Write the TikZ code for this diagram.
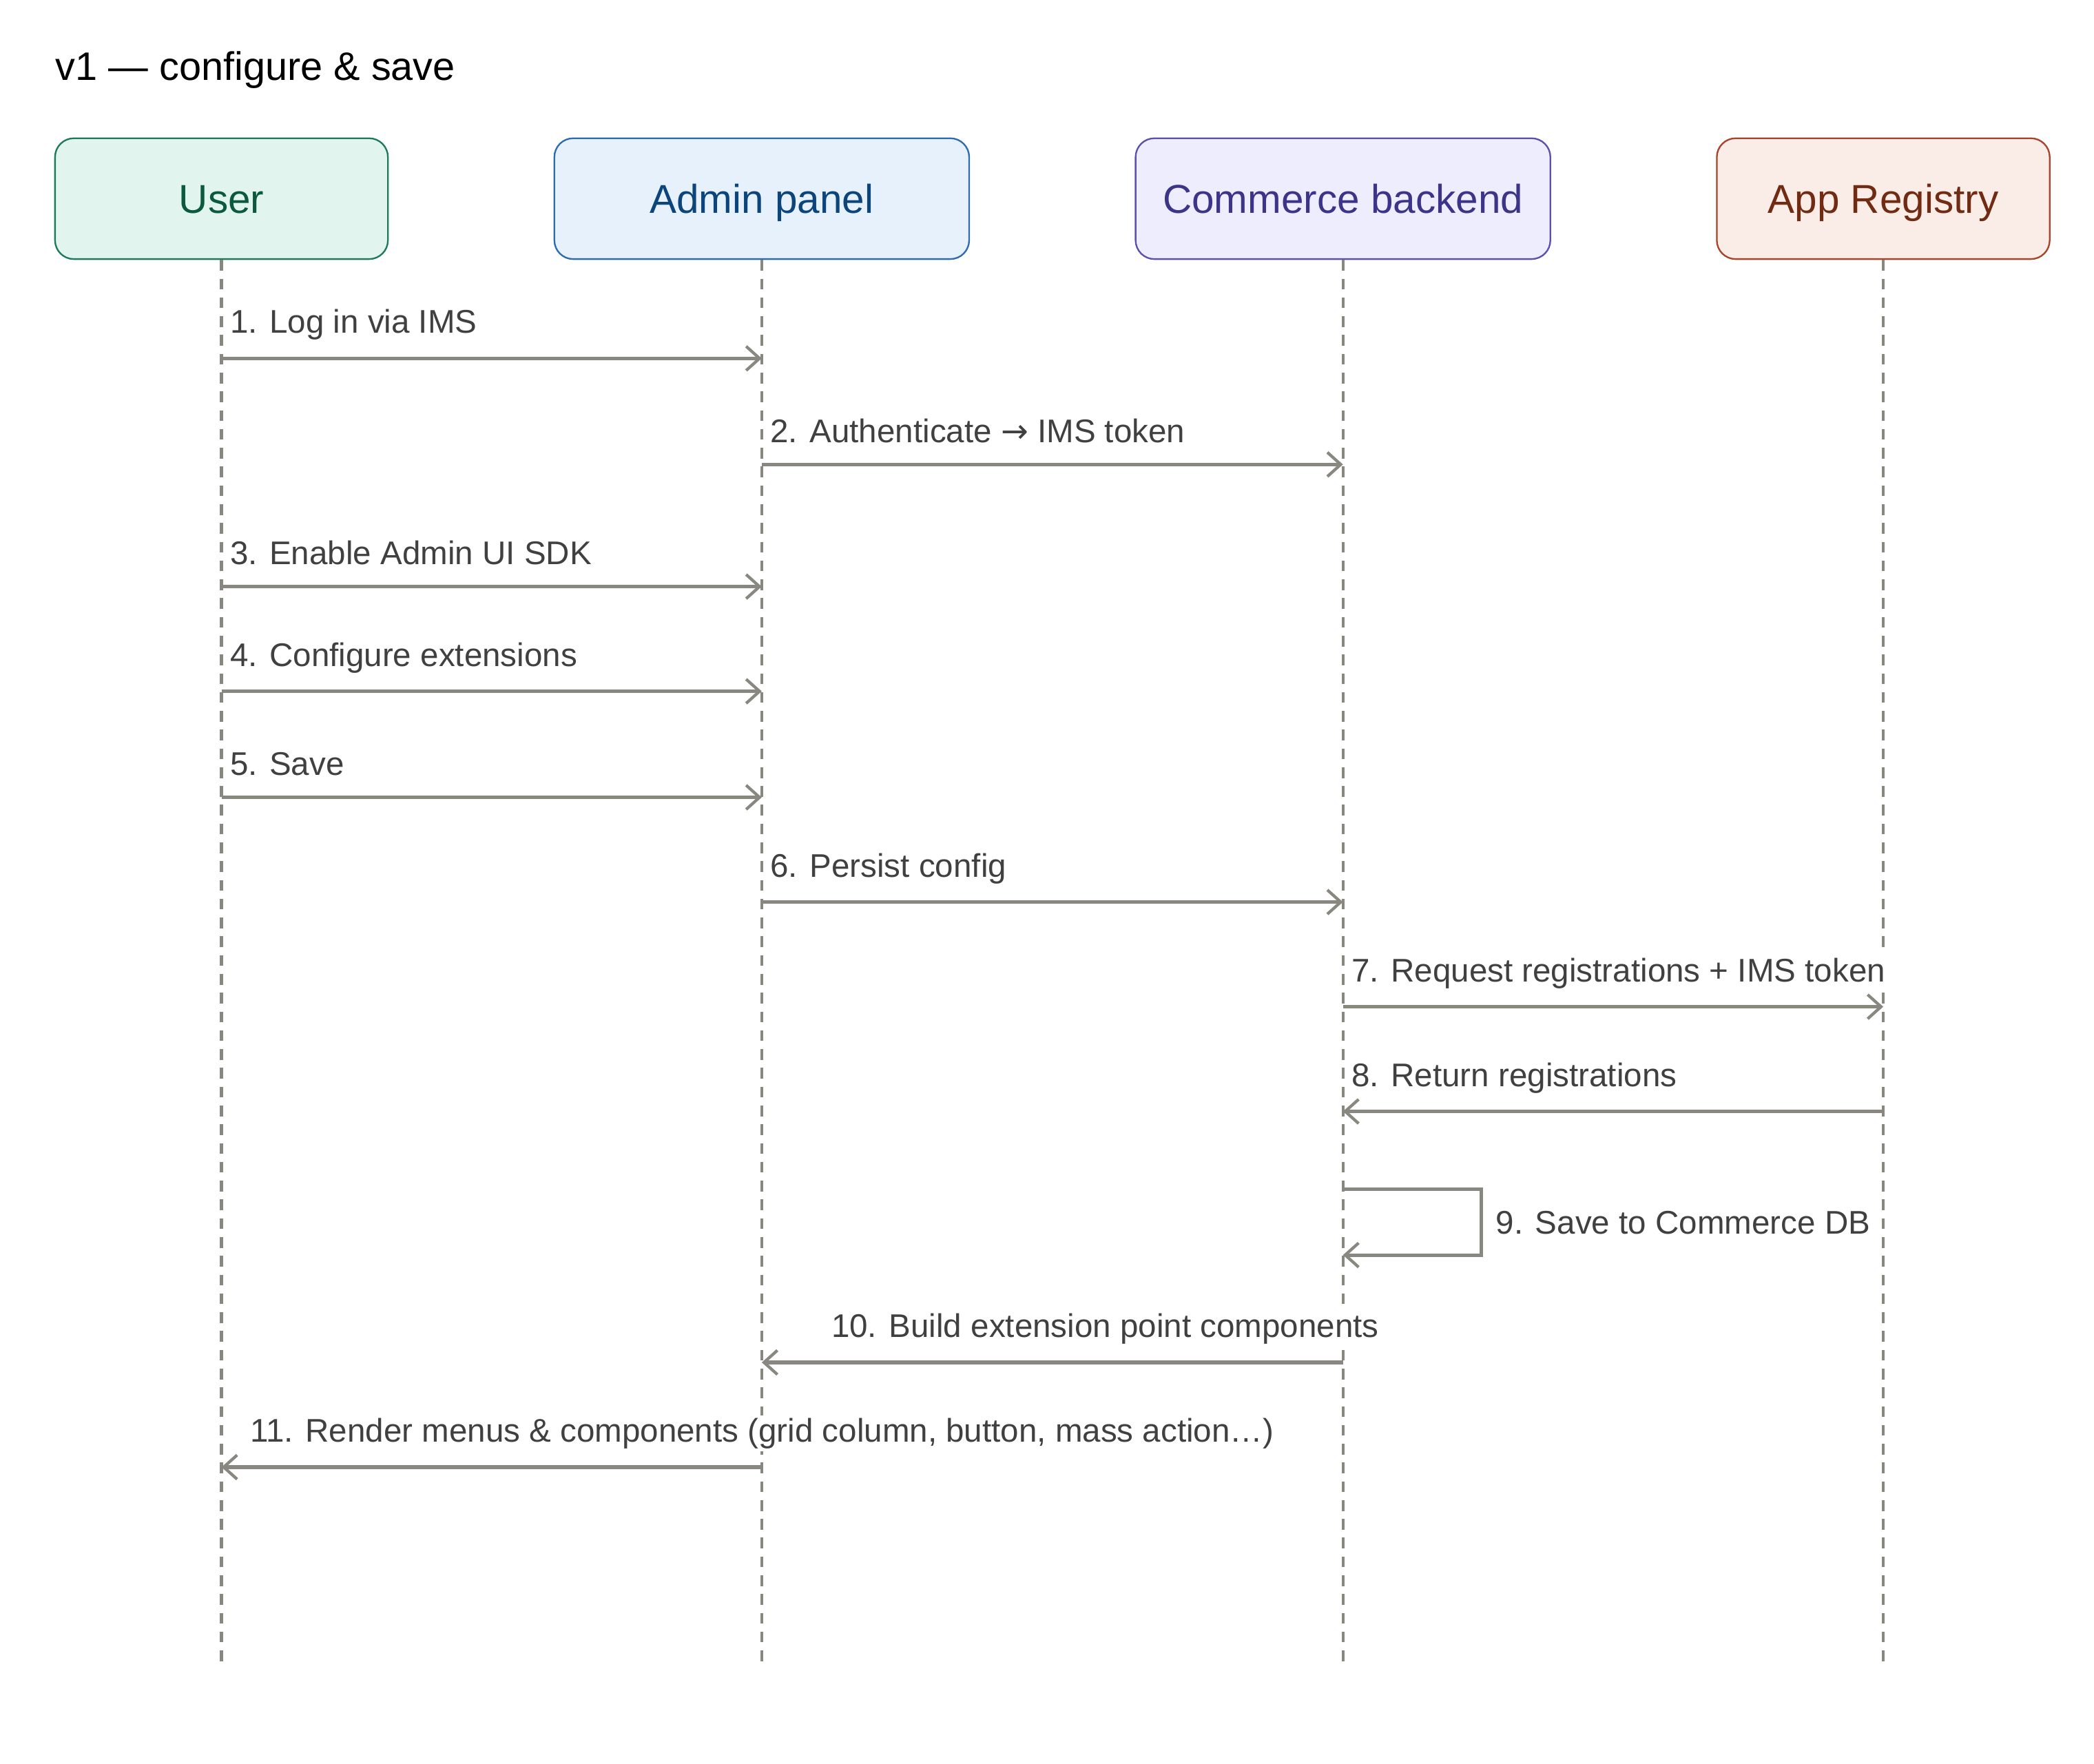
\documentclass[tikz,border=0pt]{standalone}
\usepackage{fontspec}
\setmainfont{Liberation Sans}
\newfontfamily\arrowfont{DejaVu Sans}
\usetikzlibrary{arrows.meta}
\definecolor{lifegray}{HTML}{888780}
\definecolor{userfill}{HTML}{E1F5EE}\definecolor{userdraw}{HTML}{1D7A5A}\definecolor{usertext}{HTML}{0B5A3F}
\definecolor{adminfill}{HTML}{E6F1FB}\definecolor{admindraw}{HTML}{2E6BB0}\definecolor{admintext}{HTML}{0C447C}
\definecolor{comfill}{HTML}{EEEDFE}\definecolor{comdraw}{HTML}{5A50B0}\definecolor{comtext}{HTML}{3C3489}
\definecolor{appfill}{HTML}{FAECE7}\definecolor{appdraw}{HTML}{A8442A}\definecolor{apptext}{HTML}{712B13}
\tikzset{
  actor/.style={draw, rounded corners=7pt, line width=0.6pt, minimum height=45pt, text height=11pt, text depth=0pt, font=\fontsize{15}{18}\selectfont},
  lifeline/.style={lifegray, dashed, line width=1.1pt, dash pattern=on 4pt off 3pt},
  msg/.style={lifegray, line width=1.3pt, -{Straight Barb[length=5pt,width=9pt,line width=1.1pt]}},
  msglabel/.style={fill=white, inner sep=1pt, text=black!75, font=\fontsize{12.2}{14}\selectfont}
}
\begin{document}
\begin{tikzpicture}[x=0.5pt,y=-0.5pt]
  \useasboundingbox (0,0) rectangle (1560,1314);
  \node[anchor=west, inner sep=0pt, font=\fontsize{14.8}{18}\selectfont] (title) at (41,52) {v1 — configure \& save};
  \node[actor, fill=userfill, draw=userdraw, text=usertext, minimum width=124pt] (user) at (165,148) {User};
  \node[actor, fill=adminfill, draw=admindraw, text=admintext, minimum width=154.5pt] (admin) at (567.5,148) {Admin panel};
  \node[actor, fill=comfill, draw=comdraw, text=comtext, minimum width=154.5pt] (com) at (1000.5,148) {Commerce backend};
  \node[actor, fill=appfill, draw=appdraw, text=apptext, minimum width=124pt] (app) at (1403,148) {App Registry};
  % lifelines
  \foreach \a in {user,admin,com,app}
    \draw[lifeline] (\a.south) -- (\a.south |- 0,1240);
  % messages left to right
  \foreach \y/\a/\b/\t in {267/user/admin/{1. Log in via IMS},
      346/admin/com/{2. Authenticate {\arrowfont →} IMS token},
      437/user/admin/{3. Enable Admin UI SDK},
      515/user/admin/{4. Configure extensions},
      594/user/admin/{5. Save},
      672/admin/com/{6. Persist config},
      750/com/app/{7. Request registrations + IMS token}} {
    \draw[msg] (\a.south |- 0,\y) -- (\b.south |- 0,\y);
    \node[msglabel, anchor=west] at ([xshift=2pt]\a.south |- 0,\y-25) {\t};
  }
  \draw[msg] (app.south |- 0,828) -- (com.south |- 0,828);
  \node[msglabel, anchor=west] (l8) at ([xshift=2pt]com.south |- 0,803) {8. Return registrations};
  % self call
  \coordinate (s1) at (com.south |- 0,886);
  \coordinate (s2) at (com.south |- 0,935);
  \draw[msg] (s1) -- ++(103,0) |- (s2);
  \node[msglabel, anchor=west] (l9) at (1112,911) {9. Save to Commerce DB};
  \draw[msg] (com.south |- 0,1015) -- (admin.south |- 0,1015);
  \node[msglabel, anchor=west] (l10) at (617,990) {10. Build extension point components};
  \draw[msg] (admin.south |- 0,1093) -- (user.south |- 0,1093);
  \node[msglabel, anchor=west] (l11) at (184,1068) {11. Render menus \& components (grid column, button, mass action…)};
\end{tikzpicture}
\end{document}
